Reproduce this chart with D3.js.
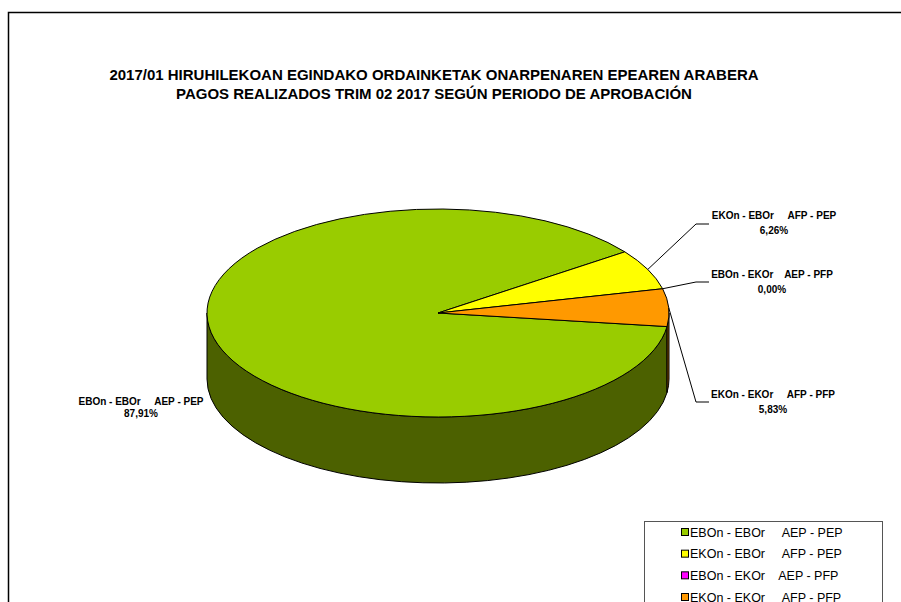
<!DOCTYPE html>
<html lang="es">
<head>
<meta charset="UTF-8" />
<title>Pagos realizados trim 02 2017</title>
<script src="https://d3js.org/d3.v7.min.js"></script>
<style>
body {
    margin: 0;
    padding: 0;
    background: #fff;
}
svg {
    display: block;
    font-family: Arial, "Liberation Sans", sans-serif;
}
text {
    white-space: pre;
}
</style>
</head>
<body>
<svg id="chart" width="901" height="602"></svg>

<script>
// data
const categories = [
    "EBOn - EBOr     AEP - PEP",
    "EKOn - EBOr     AFP - PEP",
    "EBOn - EKOr    AEP - PFP",
    "EKOn - EKOr     AFP - PFP"
];
const legendLabels = [
    "EBOn - EBOr     AEP - PEP",
    "EKOn - EBOr     AFP - PEP",
    "EBOn - EKOr    AEP - PFP",
    "EKOn - EKOr     AFP - PFP"
];
const values = [87.91, 6.26, 0.00, 5.83];
const valueLabels = ["87,91%", "6,26%", "0,00%", "5,83%"];
const titleLines = [
    "2017/01 HIRUHILEKOAN EGINDAKO ORDAINKETAK ONARPENAREN EPEAREN ARABERA",
    "PAGOS REALIZADOS TRIM 02 2017 SEGÚN PERIODO DE APROBACIÓN"
];

const topColors = ["#99cc00", "#ffff00", "#ff00ff", "#ff9900"];
const sideColors = ["#4c6100", "#808000", "#800080", "#804c00"];

const svg = d3.select("#chart");

// outer frame (runs off the right and bottom of the picture)
svg.append("rect")
    .attr("x", 8.5)
    .attr("y", 12.5)
    .attr("width", 1000)
    .attr("height", 700)
    .attr("fill", "#fff")
    .attr("stroke", "#000")
    .attr("stroke-width", 1.5);

// title
svg.append("g")
    .selectAll("text")
    .data(titleLines)
    .enter()
    .append("text")
    .attr("x", 434)
    .attr("y", (d, i) => 80 + i * 18.5)
    .attr("text-anchor", "middle")
    .attr("font-size", 15)
    .attr("font-weight", "bold")
    .text(d => d);

// pie geometry
const cx = 438, cy = 313, rx = 231, ry = 104, depth = 66;
const startDeg = 97.5;

const pie = d3.pie()
    .sort(null)
    .value(d => d)
    .startAngle(startDeg * Math.PI / 180)
    .endAngle(startDeg * Math.PI / 180 + 2 * Math.PI);

const arcs = pie(values);

function pt(a, dy) {
    return [cx + rx * Math.sin(a), cy + (dy || 0) - ry * Math.cos(a)];
}

function topPath(d) {
    const a0 = d.startAngle, a1 = d.endAngle;
    if (a1 - a0 <= 0) return "";
    const p0 = pt(a0), p1 = pt(a1);
    const large = a1 - a0 > Math.PI ? 1 : 0;
    return `M${cx},${cy}L${p0[0]},${p0[1]}A${rx},${ry} 0 ${large} 1 ${p1[0]},${p1[1]}Z`;
}

function sidePath(a0, a1) {
    const p0 = pt(a0), p1 = pt(a1);
    const q0 = pt(a0, depth), q1 = pt(a1, depth);
    return `M${p0[0]},${p0[1]}A${rx},${ry} 0 0 1 ${p1[0]},${p1[1]}` +
        `L${q1[0]},${q1[1]}A${rx},${ry} 0 0 0 ${q0[0]},${q0[1]}Z`;
}

// front half of the wall: d3 angles between 90 and 270 degrees
const sides = [];
arcs.forEach((d, i) => {
    [Math.PI / 2, Math.PI / 2 + 2 * Math.PI].forEach(lo => {
        const hi = lo + Math.PI;
        const a0 = Math.max(d.startAngle, lo);
        const a1 = Math.min(d.endAngle, hi);
        if (a1 > a0) sides.push({ i: i, a0: a0, a1: a1 });
    });
});

const pieG = svg.append("g");

pieG.selectAll(".side")
    .data(sides)
    .enter()
    .append("path")
    .attr("class", "side")
    .attr("d", d => sidePath(d.a0, d.a1))
    .attr("fill", d => sideColors[d.i])
    .attr("stroke", "#000")
    .attr("stroke-width", 1)
    .attr("stroke-linejoin", "round");

pieG.selectAll(".slice")
    .data(arcs)
    .enter()
    .append("path")
    .attr("class", "slice")
    .attr("d", topPath)
    .attr("fill", (d, i) => topColors[i])
    .attr("stroke", "#000")
    .attr("stroke-width", 1)
    .attr("stroke-linejoin", "round");

// labels
const labelPos = [
    { x: 141, y: 405, gap: 12, line: false },
    { x: 774, y: 219, gap: 15, line: true, elbowY: 224 },
    { x: 772, y: 278, gap: 15, line: true, elbowY: 282 },
    { x: 773, y: 398, gap: 15, line: true, elbowY: 402 }
];

const labelG = svg.append("g");

arcs.forEach((d, i) => {
    const lp = labelPos[i];
    if (lp.line) {
        const mid = (d.startAngle + d.endAngle) / 2;
        const p = pt(mid);
        const elbowX = cx + rx + 27;
        labelG.append("polyline")
            .attr("points", [p, [elbowX, lp.elbowY], [elbowX + 13, lp.elbowY]].map(q => q.join(",")).join(" "))
            .attr("fill", "none")
            .attr("stroke", "#000")
            .attr("stroke-width", 1);
    }
    const t = labelG.append("text")
        .attr("text-anchor", "middle")
        .attr("font-size", 10)
        .attr("font-weight", "bold")
        .attr("fill", "#000");
    t.append("tspan").attr("x", lp.x).attr("y", lp.y).text(categories[i]);
    t.append("tspan").attr("x", lp.x).attr("y", lp.y + lp.gap).text(valueLabels[i]);
});

// legend
const legend = svg.append("g");
legend.append("rect")
    .attr("x", 644.5)
    .attr("y", 521.5)
    .attr("width", 238)
    .attr("height", 120)
    .attr("fill", "#fff")
    .attr("stroke", "#555")
    .attr("stroke-width", 1);

const rowY = d3.scalePoint()
    .domain(d3.range(legendLabels.length))
    .range([532, 597]);

const rows = legend.selectAll(".row")
    .data(legendLabels)
    .enter()
    .append("g")
    .attr("class", "row")
    .attr("transform", (d, i) => `translate(681,${rowY(i)})`);

rows.append("rect")
    .attr("x", 0.5)
    .attr("y", -3.5)
    .attr("width", 7)
    .attr("height", 7)
    .attr("fill", (d, i) => topColors[i])
    .attr("stroke", "#000")
    .attr("stroke-width", 1);

rows.append("text")
    .attr("x", 9)
    .attr("y", 4.5)
    .attr("font-size", 12.5)
    .text(d => d);
</script>
</body>
</html>
